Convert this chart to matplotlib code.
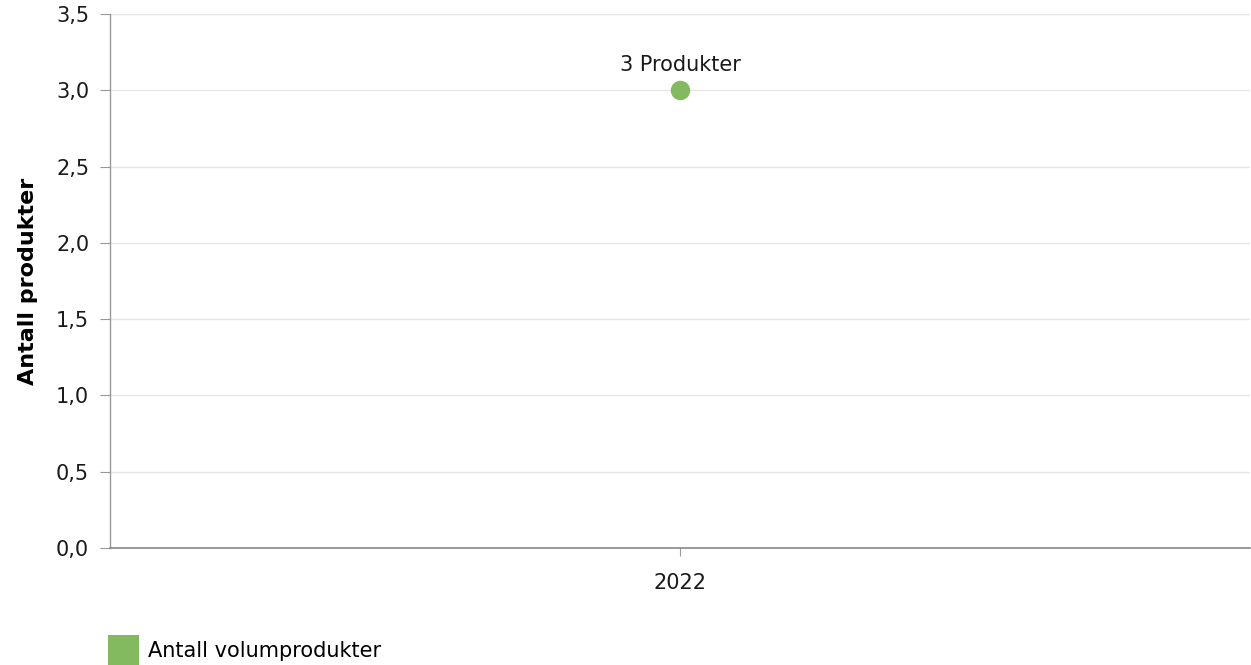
"""Antall volumprodukter per år: ett punkt med etikett."""
import matplotlib
matplotlib.use("Agg")
import matplotlib.pyplot as plt
from matplotlib.patches import Patch
from matplotlib.ticker import FuncFormatter

years = ["2022"]
counts = [3]
point_labels = ["3 Produkter"]
series_name = "Antall volumprodukter"
y_label = "Antall produkter"
y_ticks = [0.0, 0.5, 1.0, 1.5, 2.0, 2.5, 3.0, 3.5]

GREEN = "#83b95f"
GRID = "#e6e6e6"
AXIS = "#999999"
TEXT = "#1a1a1a"
FS = 15

plt.rcParams["font.family"] = ["DejaVu Sans"]
plt.rcParams["font.size"] = FS

fig = plt.figure(figsize=(12.51, 6.65), dpi=100)
ax = fig.add_axes([110 / 1251, 1 - 548 / 665, 1140 / 1251, 534 / 665])

xs = list(range(len(years)))
ax.plot(xs, counts, linestyle="none", marker="o", markersize=13,
        color=GREEN, zorder=3, clip_on=False)
for x, y, lab in zip(xs, counts, point_labels):
    ax.annotate(lab, (x, y), xytext=(0, 18), textcoords="offset points",
                ha="center", va="center", fontsize=FS, color=TEXT)

ax.set_xlim(-0.5, len(years) - 0.5)
ax.set_ylim(0, 3.5)
ax.set_xticks(xs)
ax.set_xticklabels(years)
ax.set_yticks(y_ticks)
ax.yaxis.set_major_formatter(FuncFormatter(lambda v, p: f"{v:.1f}".replace(".", ",")))

ax.grid(axis="y", color=GRID, linewidth=1)
ax.set_axisbelow(True)
for s in ["top", "right"]:
    ax.spines[s].set_visible(False)
ax.spines["left"].set_color(AXIS)
ax.spines["bottom"].set_color("#888888")
ax.spines["left"].set_linewidth(1)
ax.spines["bottom"].set_linewidth(1.2)
ax.tick_params(axis="y", length=7, color=AXIS, pad=8, labelsize=FS, labelcolor=TEXT)
ax.tick_params(axis="x", length=6, color=AXIS, pad=12, labelsize=FS, labelcolor=TEXT)

ax.set_ylabel(y_label, fontsize=16, fontweight="bold", labelpad=13)

fig.legend(handles=[Patch(facecolor=GREEN, edgecolor="none", label=series_name)],
           loc="upper left", bbox_to_anchor=(108 / 1251, 1 - 635 / 665), frameon=False,
           fontsize=FS, handlelength=1.5, handleheight=1.9, handletextpad=0.4,
           borderpad=0, borderaxespad=0)

fig.savefig("out.png", dpi=100)
